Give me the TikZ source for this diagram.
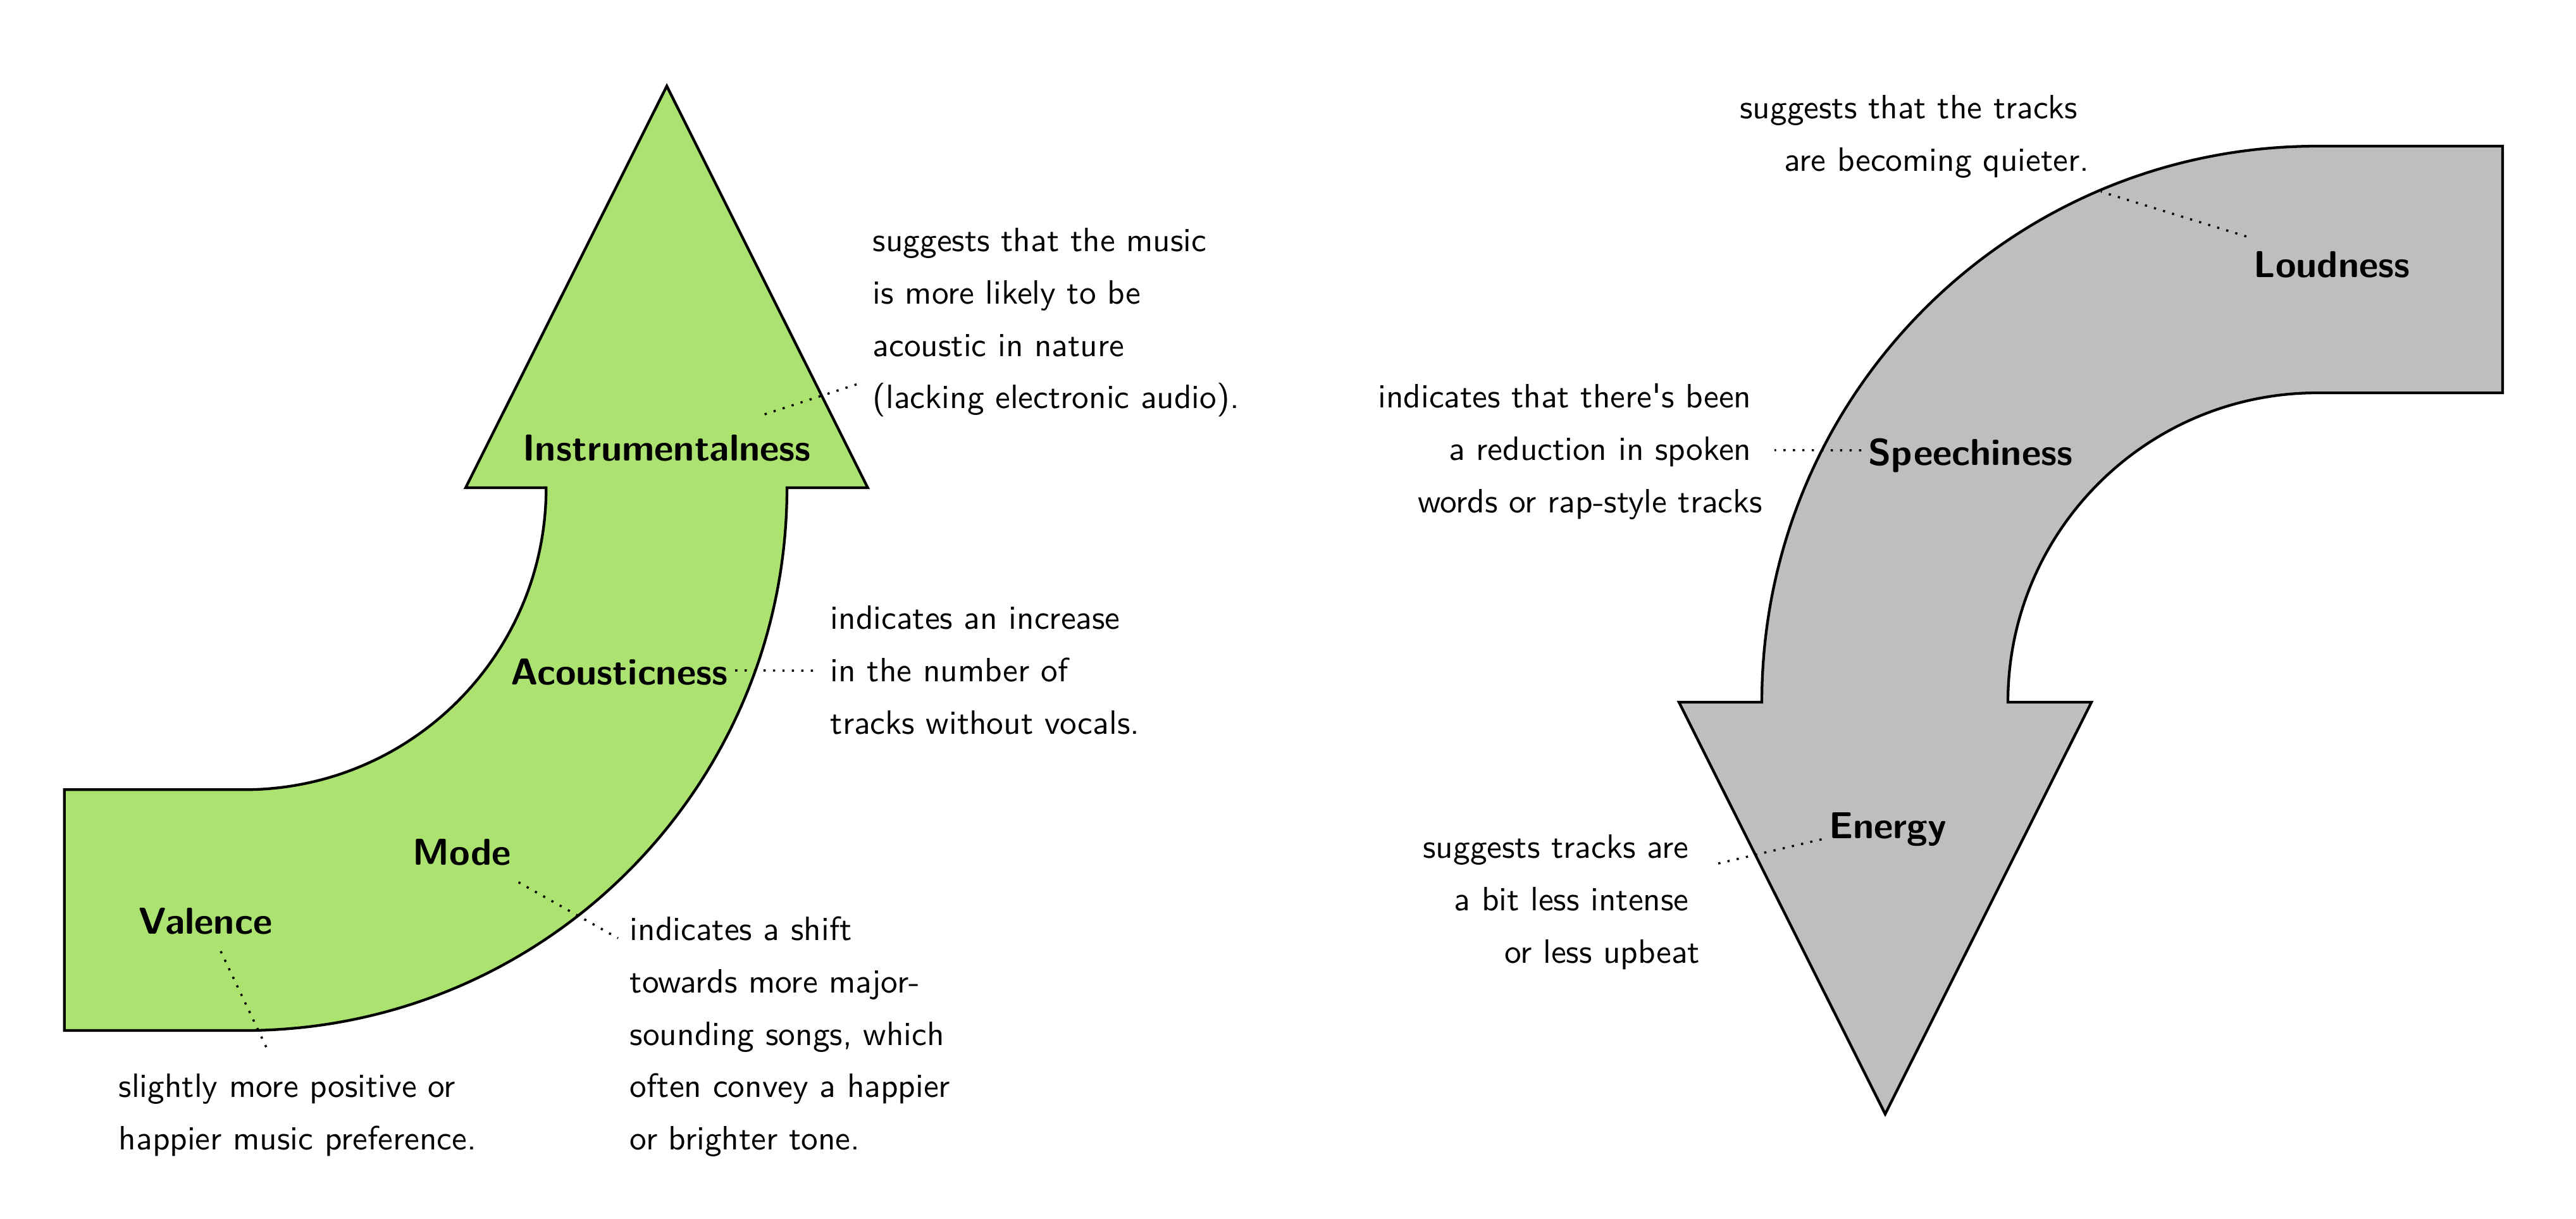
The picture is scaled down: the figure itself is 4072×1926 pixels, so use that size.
\documentclass[tikz,border=0pt]{standalone}
\definecolor{greenfill}{RGB}{172,226,112}
\definecolor{grayfill}{RGB}{190,190,190}
\newcommand\tsp{\hbox to 0.3333em{}}
\begin{document}
\begin{tikzpicture}[x=0.1875pt,y=-0.1875pt,
  arrowline/.style={draw=black,line width=0.8pt,line join=miter},
  lbl/.style={font=\sffamily\bfseries\fontsize{11.1}{13}\selectfont, inner xsep=2pt, inner ysep=2pt, text height=11.5pt, text depth=3pt, anchor=base},
  dsc/.style={font=\sffamily\fontsize{10}{15.5}\selectfont, inner sep=3.33pt},
  dsl/.style={dsc, align=left, anchor=north west},
  dsr/.style={dsc, align=right, anchor=north east},
  lnk/.style={line width=0.65pt, dash pattern=on 0.65pt off 2.15pt}]
\useasboundingbox (0,0) rectangle (4072,1926);

% left (green) arrow
\draw[arrowline, fill=greenfill] (101.7,1248.3) -- (386,1248.3)
  .. controls (649.6,1248.3) and (863.3,1034.6) .. (863.3,771)
  -- (736,771) -- (1054,136) -- (1371.7,771) -- (1244,771)
  .. controls (1244,1244.9) and (859.9,1629) .. (386,1629)
  -- (101.7,1629) -- cycle;

% right (gray) arrow
\draw[arrowline, fill=grayfill] (3956,231) -- (3663,231)
  .. controls (3177.5,231) and (2785,624.5) .. (2785,1110)
  -- (2654,1110) -- (2980,1761) -- (3306,1110) -- (3174,1110)
  .. controls (3174,839.9) and (3392.9,621) .. (3663,621)
  -- (3956,621) -- cycle;

% labels
\node[lbl] (instr) at (1054,728) {Instrumentalness};
\node[lbl] (acous) at (979,1082) {Acousticness};
\node[lbl] (mode) at (730,1367) {Mode};
\node[lbl] (val) at (325,1476) {Valence};
\node[lbl] (loud) at (3686,438) {Loudness};
\node[lbl] (speech) at (3115,735) {Speechiness};
\node[lbl] (energy) at (2984,1325) {Energy};

% descriptions
\node[dsl] (instrD) at (1361,321) {\strut suggests that the music\\\strut is more likely to be\\\strut acoustic in nature\\\strut (lacking electronic audio).};
\node[dsl] (acousD) at (1294,918) {\strut indicates an increase\\\strut in the number of\\\strut tracks without vocals.};
\node[dsl] (modeD) at (977,1410) {\strut indicates a shift\\\strut towards more major-\\\strut sounding songs, which\\\strut often convey a happier\\\strut or brighter tone.};
\node[dsl] (valD) at (169,1658) {\strut slightly more positive or\\\strut happier music preference.};
\node[dsr] (loudD) at (3321,111) {\strut suggests that the tracks\tsp\\\strut are becoming quieter.};
\node[dsr] (speechD) at (2805,568) {\strut indicates that there\textquotesingle s been\tsp\\\strut a reduction in spoken\tsp\\\strut words or rap-style tracks};
\node[dsr] (energyD) at (2706,1280) {\strut suggests tracks are\tsp\\\strut a bit less intense\tsp\\\strut or less upbeat};

% dotted connectors
\draw[lnk] (instr) -- (instrD);
\draw[lnk] (acous) -- (acousD);
\draw[lnk] (mode) -- (modeD);
\draw[lnk] (val) -- (valD);
\draw[lnk] (loud) -- (loudD);
\draw[lnk] (speech) -- (speechD);
\draw[lnk] (energy) -- (energyD);
\end{tikzpicture}
\end{document}
